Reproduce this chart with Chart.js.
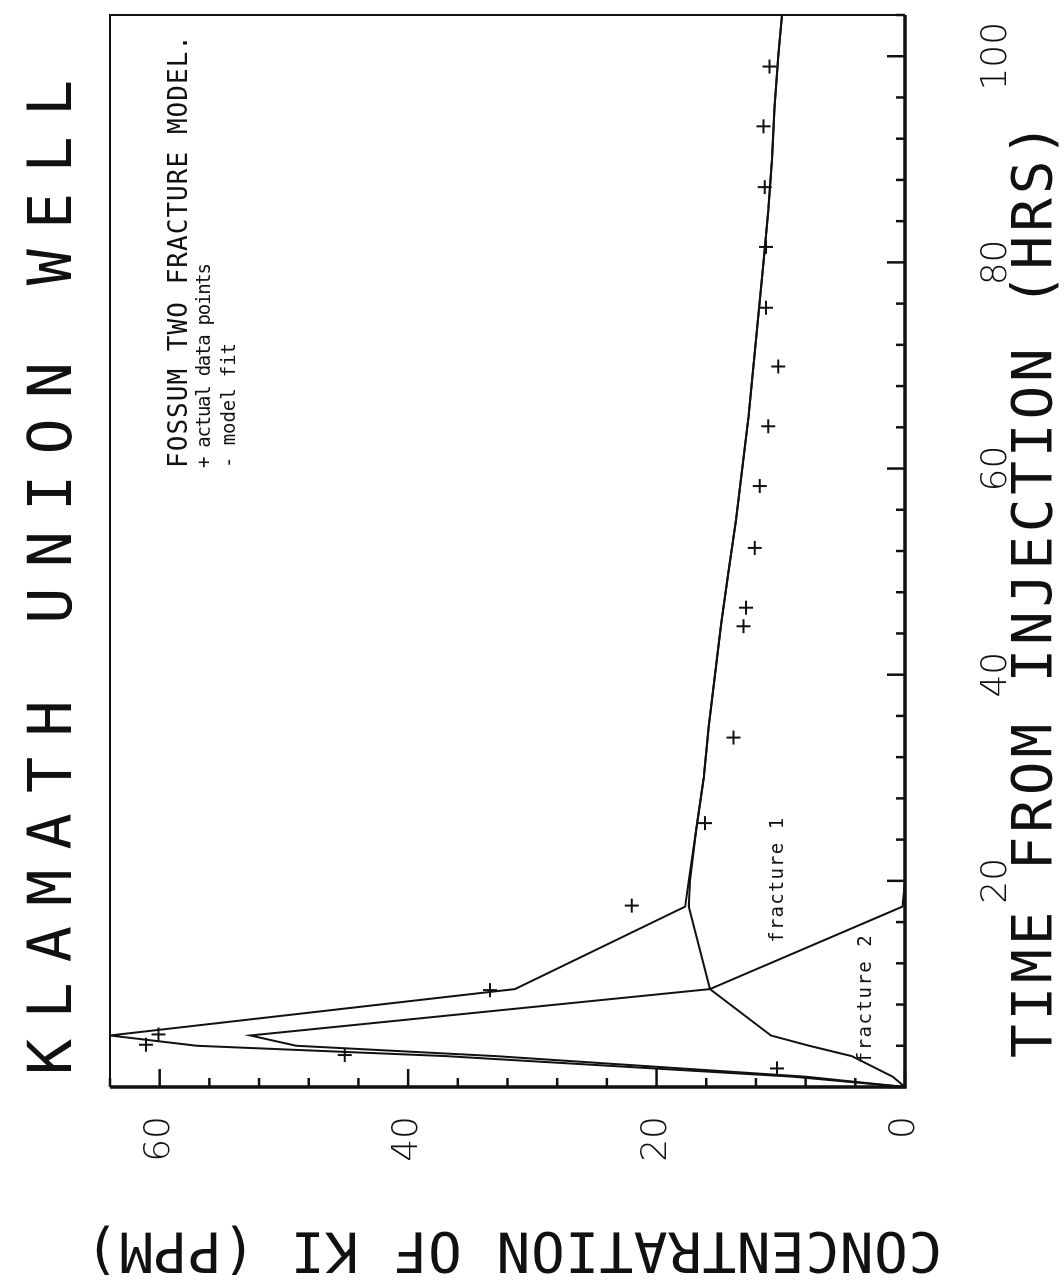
<!DOCTYPE html>
<html lang="en">
<head>
    <meta charset="UTF-8">
    <title>Klamath Union Well</title>
    <script src="https://cdn.jsdelivr.net/npm/chart.js"></script>
    <style>
        body {
            margin: 0;
            background: #fff;
            overflow: hidden;
        }

        .page {
            position: relative;
            width: 1064px;
            height: 1288px;
            overflow: hidden;
        }

        /* the plot was drawn on its side: build it upright, then turn it */
        .turned {
            position: absolute;
            left: 0;
            top: 0;
            width: 1288px;
            height: 1064px;
            transform-origin: 0 0;
            transform: translate(0, 1288px) rotate(-90deg);
        }

        canvas {
            display: block;
            background: #fff;
        }
    </style>
</head>
<body>
    <div class="page">
        <div class="turned">
            <canvas id="chart" width="1288" height="1064"></canvas>
        </div>
    </div>
    <script>
        // time from injection (hrs) for the model curves
        const modelTimes = [0, 1, 3, 4, 5, 9.5, 17.5, 20, 25, 30, 35, 40, 45, 50, 55, 60, 65, 70, 75, 80, 85, 90, 95, 100, 104];
        // KI concentration (ppm)
        const modelFit  = [0, 9, 37, 57, 64, 31.4, 17.7, 17.4, 16.8, 16.2, 15.8, 15.3, 14.8, 14.2, 13.6, 13.1, 12.6, 12.2, 11.8, 11.4, 11.0, 10.7, 10.5, 10.2, 9.9];
        const fracture1 = [0, 8, 33, 49, 52.7, 15.7, 17.4, 17.3, 16.8, 16.2, 15.8, 15.3, 14.8, 14.2, 13.6, 13.1, 12.6, 12.2, 11.8, 11.4, 11.0, 10.7, 10.5, 10.2, 9.9];
        const fracture2 = [0, 1.0, 4.3, 7.7, 10.8, 15.7, 0.2, 0, 0, 0, 0, 0, 0, 0, 0, 0, 0, 0, 0, 0, 0, 0, 0, 0, 0];

        // measured points
        const dataTimes = [1.8, 3.1, 4.1, 5.1, 9.4, 17.6, 25.6, 33.9, 44.7, 46.5, 52.3, 58.3, 64.1, 69.9, 75.6, 81.5, 87.3, 93.2, 99.0];
        const dataConc  = [10.3, 45.1, 61.1, 60.1, 33.4, 22.0, 16.1, 13.8, 13.0, 12.8, 12.1, 11.7, 11.0, 10.2, 11.2, 11.2, 11.3, 11.4, 10.9];

        // labelled ticks (the time axis has no "0")
        const timeLabels = [20, 40, 60, 80, 100];
        const concLabels = [0, 20, 40, 60];

        const ink = '#111';
        const mono = '"DejaVu Sans Mono", "Liberation Mono", monospace';
        const digits = '"DejaVu Sans", "Liberation Sans", sans-serif';

        function toPoints(xs, ys) {
            return xs.map((v, i) => ({ x: v, y: ys[i] }));
        }

        // spread the letters so the string covers the given width
        function spacedText(ctx, text, x, y, width) {
            let plain = 0;
            for (const ch of text) plain += ctx.measureText(ch).width;
            const gap = text.length > 1 ? (width - plain) / (text.length - 1) : 0;
            for (const ch of text) {
                ctx.fillText(ch, x, y);
                x += ctx.measureText(ch).width + gap;
            }
        }

        const paperPlugin = {
            id: 'paper',
            beforeDraw(chart) {
                const ctx = chart.ctx;
                ctx.save();
                ctx.fillStyle = '#fff';
                ctx.fillRect(0, 0, chart.width, chart.height);
                ctx.restore();
            },
            afterDraw(chart) {
                const { ctx, chartArea: a, scales: { x, y } } = chart;
                ctx.save();
                ctx.strokeStyle = ink;
                ctx.fillStyle = ink;

                // frame: heavier on the two axis sides
                ctx.lineWidth = 2;
                ctx.beginPath();
                ctx.moveTo(a.left, a.top);
                ctx.lineTo(a.right, a.top);
                ctx.lineTo(a.right, a.bottom);
                ctx.stroke();
                ctx.lineWidth = 3.5;
                ctx.beginPath();
                ctx.moveTo(a.left, a.top);
                ctx.lineTo(a.left, a.bottom);
                ctx.lineTo(a.right, a.bottom);
                ctx.stroke();

                // tick marks point into the plot, longer every 20
                ctx.lineWidth = 2.5;
                x.ticks.forEach(t => {
                    const px = x.getPixelForValue(t.value);
                    const len = t.value % 20 === 0 ? 18 : 9;
                    ctx.beginPath();
                    ctx.moveTo(px, a.bottom);
                    ctx.lineTo(px, a.bottom - len);
                    ctx.stroke();
                });
                y.ticks.forEach(t => {
                    const py = y.getPixelForValue(t.value);
                    const len = t.value % 20 === 0 ? 18 : 9;
                    ctx.beginPath();
                    ctx.moveTo(a.left, py);
                    ctx.lineTo(a.left + len, py);
                    ctx.stroke();
                });

                ctx.textBaseline = 'middle';
                ctx.textAlign = 'left';

                // title
                ctx.font = '60px ' + mono;
                spacedText(ctx, 'KLAMATH UNION WELL', a.left + 12, a.top - 55, 995);

                // time axis title
                ctx.font = '56px ' + mono;
                spacedText(ctx, 'TIME FROM INJECTION (HRS)', a.left + 29, a.bottom + 131, 935);

                // concentration axis title, turned
                ctx.save();
                ctx.translate(40, a.bottom + 37);
                ctx.rotate(-Math.PI / 2);
                spacedText(ctx, 'CONCENTRATION OF KI (PPM)', 0, 0, 857);
                ctx.restore();

                // legend
                ctx.font = '26px ' + mono;
                spacedText(ctx, 'FOSSUM TWO FRACTURE MODEL.', a.left + 619, a.top + 70, 433);
                ctx.font = '19px ' + mono;
                spacedText(ctx, '+ actual data points', a.left + 619, a.top + 95, 205);
                spacedText(ctx, '- model fit', a.left + 619, a.top + 120, 125);

                // curve names
                ctx.font = '19px ' + mono;
                spacedText(ctx, 'fracture 1', x.getPixelForValue(14), y.getPixelForValue(10.2), 125);
                spacedText(ctx, 'fracture 2', x.getPixelForValue(2.3), y.getPixelForValue(3.1), 128);

                ctx.restore();
            }
        };

        const lineStyle = {
            showLine: true,
            borderColor: ink,
            borderWidth: 2,
            pointRadius: 0,
            tension: 0,
            fill: false
        };

        new Chart(document.getElementById('chart'), {
            type: 'scatter',
            data: {
                datasets: [
                    { label: 'model fit', data: toPoints(modelTimes, modelFit), ...lineStyle },
                    { label: 'fracture 1', data: toPoints(modelTimes, fracture1), ...lineStyle },
                    { label: 'fracture 2', data: toPoints(modelTimes, fracture2), ...lineStyle },
                    {
                        label: 'actual data points',
                        data: toPoints(dataTimes, dataConc),
                        showLine: false,
                        pointStyle: 'cross',
                        pointRadius: 7,
                        pointBorderWidth: 2,
                        borderColor: ink,
                        backgroundColor: ink
                    }
                ]
            },
            options: {
                responsive: false,
                animation: false,
                layout: {
                    padding: { top: 110, right: 15, left: 0, bottom: 0 }
                },
                plugins: {
                    legend: { display: false },
                    title: { display: false },
                    tooltip: { enabled: false }
                },
                scales: {
                    x: {
                        type: 'linear',
                        min: 0,
                        max: 104,
                        grid: { display: false },
                        border: { display: false },
                        ticks: {
                            stepSize: 4,
                            autoSkip: false,
                            maxRotation: 0,
                            padding: 62,
                            color: ink,
                            font: { family: digits, size: 36, weight: '200' },
                            callback: v => timeLabels.includes(v) ? String(v) : ''
                        },
                        afterFit: scale => {
                            scale.height = 159;
                            scale.paddingLeft = 0;
                            scale.paddingRight = 0;
                        }
                    },
                    y: {
                        type: 'linear',
                        min: 0,
                        max: 64,
                        grid: { display: false },
                        border: { display: false },
                        ticks: {
                            stepSize: 4,
                            autoSkip: false,
                            padding: 21,
                            color: ink,
                            font: { family: digits, size: 36, weight: '200' },
                            callback: v => concLabels.includes(v) ? String(v) : ''
                        },
                        afterFit: scale => {
                            scale.width = 201;
                            scale.paddingTop = 0;
                            scale.paddingBottom = 0;
                        }
                    }
                }
            },
            plugins: [paperPlugin]
        });
    </script>
</body>
</html>
